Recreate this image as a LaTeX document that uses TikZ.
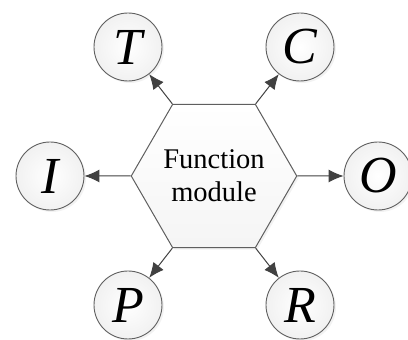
\documentclass[tikz,border=0pt]{standalone}
\usepackage{fontspec}
\setmainfont{Liberation Serif}
\usetikzlibrary{arrows.meta,shapes.geometric,shadows}
\definecolor{edgegrey}{RGB}{95,95,95}
\definecolor{arrgrey}{RGB}{65,65,65}
\tikzset{
  fmod/.style={regular polygon,regular polygon sides=6,draw=edgegrey,line width=1pt,
               top color=white,bottom color=gray!8,minimum size=158,inner sep=0pt,
               align=center,font=\fontsize{28.5}{33}\selectfont,
               drop shadow={opacity=0.10,shadow xshift=2pt,shadow yshift=-2pt}},
  port/.style={circle,draw=edgegrey,line width=0.9pt,minimum size=68,inner sep=0pt,
               inner color=white,outer color=gray!11,font=\fontsize{52}{52}\selectfont\itshape,
               drop shadow={opacity=0.10,shadow xshift=2pt,shadow yshift=-2pt}},
  arr/.style={-{Latex[length=15pt,width=13pt]},line width=1pt,draw=arrgrey},
}
\begin{document}
\begin{tikzpicture}[x=1pt,y=1pt]
  \useasboundingbox (0,0) rectangle (408,340);

  % --- modul central ------------------------------------------------------
  \node[fmod] (fm) at (214,164) {Function\\module};

  % --- porturi ------------------------------------------------------------
  \node[port] (t) at (128,293) {T};
  \node[port] (c) at (300,293) {C};
  \node[port] (i) at (50,164)  {I};
  \node[port] (o) at (378,164) {O};
  \node[port] (p) at (128,35)  {P};
  \node[port] (r) at (300,35)  {R};

  % --- sageti din colturi -------------------------------------------------
  \draw[arr] (fm.120) -- (t);
  \draw[arr] (fm.60)  -- (c);
  \draw[arr] (fm.180) -- (i);
  \draw[arr] (fm.0)   -- (o);
  \draw[arr] (fm.240) -- (p);
  \draw[arr] (fm.300) -- (r);

\end{tikzpicture}
\end{document}
